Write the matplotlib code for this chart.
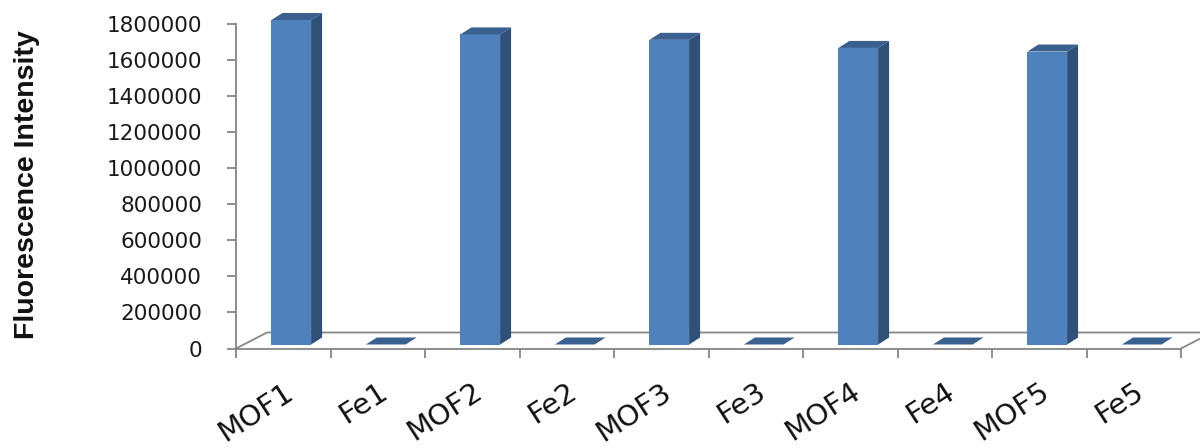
import matplotlib
matplotlib.use("Agg")
import matplotlib.pyplot as plt
from matplotlib.patches import Polygon
import numpy as np

# Sample names and measured fluorescence intensity
categories = ["MOF1", "Fe1", "MOF2", "Fe2", "MOF3", "Fe3", "MOF4", "Fe4", "MOF5", "Fe5"]
intensity = [1800000, 0, 1720000, 0, 1690000, 0, 1645000, 0, 1625000, 0]
y_ticks = [0, 200000, 400000, 600000, 800000, 1000000, 1200000, 1400000, 1600000, 1800000]

FRONT = "#4F81BD"
SIDE = "#2F5077"
TOP = "#3A6090"
AXIS = "#868686"

fig = plt.figure(figsize=(12, 4.48), dpi=100)
W, H = 1200, 448
ax = fig.add_axes([236 / W, (H - 348.5) / H, 945 / W, 324.5 / H])
n = len(categories)
ax.set_xlim(0, n)
ax.set_ylim(0, y_ticks[-1])

# pixel -> data conversion for the pseudo-3D depth offsets
bb = ax.get_window_extent()
px_x = bb.width / n
px_y = bb.height / y_ticks[-1]


def dx(p):
    return p / px_x


def dy(p):
    return p / px_y


# floor: front edge is the bottom spine, back edge drawn as a line
floor_dx, floor_dy = dx(31), dy(16)
ax.plot([0, floor_dx, n + floor_dx], [0, floor_dy, floor_dy], color=AXIS,
        lw=1.3, clip_on=False, zorder=1)
ax.plot([n, n + floor_dx], [0, floor_dy], color=AXIS, lw=1.3, clip_on=False, zorder=1)

# bars with side and top faces
centers = np.arange(n) + 0.5
bw = 0.42
base_x, base_y = dx(8), dy(4)
side_x, side_y = dx(11), dy(7)
ax.bar(centers + base_x, intensity, width=bw, bottom=base_y, color=FRONT,
       zorder=3, clip_on=False)
for c, v in zip(centers, intensity):
    x0 = c + base_x - bw / 2
    x1 = x0 + bw
    y0 = base_y
    y1 = base_y + v
    ax.add_patch(Polygon([(x1, y0), (x1 + side_x, y0 + side_y),
                          (x1 + side_x, y1 + side_y), (x1, y1)],
                         closed=True, facecolor=SIDE, edgecolor="none",
                         zorder=3, clip_on=False))
    ax.add_patch(Polygon([(x0, y1), (x1, y1), (x1 + side_x, y1 + side_y),
                          (x0 + side_x, y1 + side_y)],
                         closed=True, facecolor=TOP, edgecolor="none",
                         zorder=3, clip_on=False))

# axes styling
for s in ["top", "right"]:
    ax.spines[s].set_visible(False)
for s in ["left", "bottom"]:
    ax.spines[s].set_color(AXIS)
    ax.spines[s].set_linewidth(1.3)

ax.set_yticks(y_ticks)
ax.set_yticklabels([str(t) for t in y_ticks])
ax.tick_params(axis="y", direction="out", length=6.5, width=1.3, color=AXIS,
               pad=18, labelsize=15.5, labelcolor="#1a1a1a")

ax.set_xticks(np.arange(n + 1))
ax.set_xticklabels([])
ax.tick_params(axis="x", which="major", direction="out", length=6.5, width=1.3,
               color=AXIS)
ax.set_xticks(centers, minor=True)
ax.set_xticklabels(categories, minor=True, rotation=33, ha="right",
                   rotation_mode="anchor", fontsize=21, color="#111111")
ax.tick_params(axis="x", which="minor", length=0, pad=21)

fig.text(27 / W, 1 - 185 / H, "Fluorescence Intensity", rotation=90,
         ha="center", va="center", fontsize=20.5, fontweight="bold",
         family=["Liberation Sans", "DejaVu Sans"], color="#111111")

fig.savefig("out.png", dpi=100, facecolor="white")
